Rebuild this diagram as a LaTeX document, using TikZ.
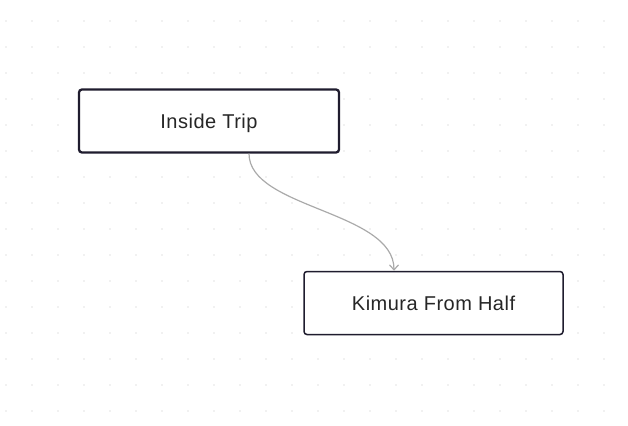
\documentclass[tikz,border=0pt]{standalone}
\usepackage{fontspec}
\setmainfont{Liberation Sans}
\newfontfamily\boxfont[LetterSpace=2.5]{Liberation Sans}
\usetikzlibrary{calc,arrows.meta}
\definecolor{boxline}{HTML}{1F1C2E}
\definecolor{conn}{HTML}{AAAAAA}
\definecolor{dotc}{HTML}{C4C4C4}
\tikzset{
  box/.style={draw=boxline, rounded corners=3pt, fill=white, minimum width=260pt, minimum height=63pt, inner sep=0pt, text height=15pt, text depth=0pt, font=\boxfont\fontsize{20}{24}\selectfont, text=black!85},
  link/.style={draw=conn, line width=1.2pt, -{Straight Barb[length=5pt,width=9pt]}}
}
\begin{document}
\begin{tikzpicture}[x=1pt,y=-1pt]
\useasboundingbox (0,0) rectangle (628,425);
\foreach \i in {0,...,24}{\foreach \j in {0,...,15}{\fill[dotc] (6+26*\i,21+26*\j) circle (0.7pt);}}
\node[box, line width=2.3pt] (n1) at (209,121) {Inside Trip};
\node[box, line width=1.5pt, minimum width=259pt] (n2) at (433.5,303) {Kimura From Half};
\draw[link] ($(n1.south)+(40,0)$) .. controls +(0,55) and +(0,-60) .. ($(n2.north)+(-39.5,0)$);
\end{tikzpicture}
\end{document}
